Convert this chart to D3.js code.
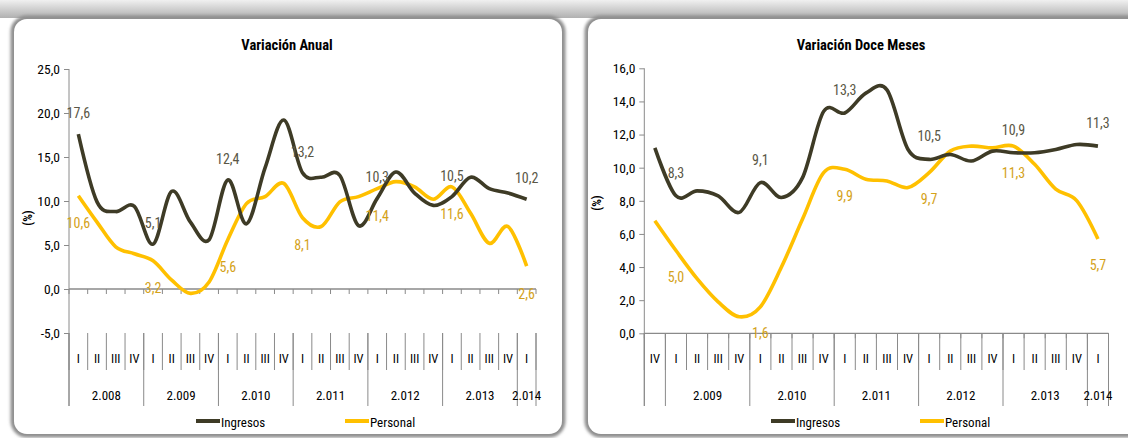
<!DOCTYPE html>
<html>
<head>
<meta charset="utf-8">
<script src="https://cdn.jsdelivr.net/npm/d3@7"></script>
<style>
  html, body { margin: 0; padding: 0; background: #ffffff; }
  svg { display: block; }
  text { font-family: "Liberation Sans Narrow", "Roboto Condensed", "DejaVu Sans Condensed", "Liberation Sans", sans-serif; }
</style>
</head>
<body>
<svg id="chart" width="1128" height="438"></svg>
<script>
// ---------- DATA ----------
const seriesNames = ["Ingresos", "Personal"];

// Variación Anual (2008 I .. 2014 I)
const annualQuarters = ["I","II","III","IV","I","II","III","IV","I","II","III","IV","I","II","III","IV","I","II","III","IV","I","II","III","IV","I"];
const annualYears = ["2.008","2.009","2.010","2.011","2.012","2.013","2.014"];
const annualYearSpans = [4, 4, 4, 4, 4, 4, 1];
const annualIngresos = [17.6, 9.9, 8.8, 9.4, 5.1, 11.1, 7.6, 5.6, 12.4, 7.4, 13.8, 19.2, 13.2, 12.7, 12.9, 7.2, 10.3, 13.3, 10.9, 9.5, 10.5, 12.7, 11.4, 10.9, 10.2];
const annualPersonal = [10.6, 7.6, 4.8, 4.0, 3.2, 1.0, -0.5, 0.8, 5.6, 9.7, 10.5, 12.0, 8.1, 7.1, 9.9, 10.5, 11.4, 12.2, 11.6, 10.2, 11.6, 8.6, 5.2, 7.1, 2.6];
const annualLabelIdx = [0, 4, 8, 12, 16, 20, 24];
const annualTicks = [-5, 0, 5, 10, 15, 20, 25];

// Variación Doce Meses (2008 IV .. 2014 I)
const twelveQuarters = ["IV","I","II","III","IV","I","II","III","IV","I","II","III","IV","I","II","III","IV","I","II","III","IV","I"];
const twelveYears = ["", "2.009","2.010","2.011","2.012","2.013","2.014"];
const twelveYearSpans = [1, 4, 4, 4, 4, 4, 1];
const twelveIngresos = [11.2, 8.3, 8.6, 8.3, 7.3, 9.1, 8.2, 9.4, 13.4, 13.3, 14.5, 14.7, 11.1, 10.5, 10.8, 10.4, 11.0, 10.9, 10.9, 11.1, 11.4, 11.3];
const twelvePersonal = [6.8, 5.0, 3.3, 1.9, 1.0, 1.6, 4.0, 6.9, 9.7, 9.9, 9.3, 9.2, 8.8, 9.7, 11.0, 11.3, 11.2, 11.3, 10.2, 8.7, 8.0, 5.7];
const twelveLabelIdx = [1, 5, 9, 13, 17, 21];
const twelveTicks = [0, 2, 4, 6, 8, 10, 12, 14, 16];

// ---------- STYLE ----------
const colIngresos = "#3e3b26";
const colPersonal = "#ffc000";
const colIngLabel = "#5a5746";
const colPerLabel = "#d4a21a";
const axisCol = "#8a8a8a";
const fmt = v => d3.format(".1f")(v).replace(".", ",").replace("\u2212", "-");

const svg = d3.select("#chart");
const defs = svg.append("defs");
const blur = defs.append("filter").attr("id", "blur").attr("x", "-5%").attr("y", "-5%").attr("width", "110%").attr("height", "110%");
blur.append("feGaussianBlur").attr("stdDeviation", 1.8);
const topGrad = defs.append("linearGradient").attr("id", "topGrad").attr("x1", 0).attr("y1", 0).attr("x2", 0).attr("y2", 1);
topGrad.append("stop").attr("offset", "0%").attr("stop-color", "#f0f0f0");
topGrad.append("stop").attr("offset", "100%").attr("stop-color", "#b0b0b0");

// top shadow band
svg.append("rect").attr("x", 0).attr("y", 0).attr("width", 1128).attr("height", 18).attr("fill", "url(#topGrad)");

function panel(x, y, w, h) {
  svg.append("rect").attr("x", x).attr("y", y).attr("width", w).attr("height", h)
    .attr("rx", 13).attr("fill", "none").attr("stroke", "#8e8e8e").attr("stroke-width", 7)
    .attr("filter", "url(#blur)");
  svg.append("rect").attr("x", x).attr("y", y).attr("width", w).attr("height", h)
    .attr("rx", 13).attr("fill", "#ffffff");
}
panel(14, 19, 548, 415);
panel(588, 19, 560, 415);

function drawChart(cfg) {
  const g = svg.append("g");
  const n = cfg.quarters.length;
  const x = d3.scaleBand().domain(d3.range(n)).range([cfg.x0, cfg.x1]).paddingInner(0).paddingOuter(0);
  const y = d3.scaleLinear().domain(cfg.domain).range([cfg.yBottom, cfg.yTop]);
  const cx = i => x(i) + x.bandwidth() / 2;

  // title
  g.append("text").attr("x", cfg.titleX).attr("y", 50).attr("text-anchor", "middle")
    .attr("font-size", 14.5).attr("font-weight", "bold").attr("fill", "#000").text(cfg.title);

  // y axis label
  g.append("text").attr("transform", `translate(${cfg.pctX},${cfg.pctY}) rotate(-90)`)
    .attr("text-anchor", "middle").attr("dominant-baseline", "central")
    .attr("font-size", 12).attr("font-weight", "bold").attr("fill", "#000").text("(%)");

  // y axis
  const yAxis = d3.axisLeft(y).tickValues(cfg.ticks).tickFormat(fmt).tickSize(5).tickPadding(4);
  const ya = g.append("g").attr("transform", `translate(${cfg.x0},0)`).call(yAxis);
  ya.select(".domain").remove();
  ya.selectAll(".tick line").attr("stroke", axisCol);
  ya.selectAll(".tick text").attr("font-size", 13.5).attr("fill", "#000")
    .style("font-family", "'Liberation Sans Narrow', 'Roboto Condensed', 'DejaVu Sans Condensed', sans-serif");
  // vertical axis line extends through category area
  g.append("line").attr("x1", cfg.x0).attr("x2", cfg.x0).attr("y1", cfg.yTop).attr("y2", cfg.catBottom)
    .attr("stroke", axisCol).attr("stroke-width", 1);

  // x axis at 0 with tick marks at category boundaries
  const y0 = y(0);
  g.append("line").attr("x1", cfg.x0).attr("x2", cfg.x1).attr("y1", y0).attr("y2", y0)
    .attr("stroke", axisCol).attr("stroke-width", 1.3);
  const bounds = d3.range(n + 1).map(i => i < n ? x(i) : cfg.x1);
  g.selectAll(".xt").data(bounds).enter().append("line")
    .attr("x1", d => d).attr("x2", d => d).attr("y1", y0).attr("y2", y0 + 5)
    .attr("stroke", axisCol);

  // category separators (quarter level)
  const catTop = cfg.yBottom;
  g.selectAll(".qs").data(bounds).enter().append("line")
    .attr("x1", d => d).attr("x2", d => d).attr("y1", catTop).attr("y2", cfg.qBottom)
    .attr("stroke", axisCol);
  // year separators
  let acc = 0; const yearB = [0];
  cfg.yearSpans.forEach(s => { acc += s; yearB.push(acc); });
  g.selectAll(".ys").data(yearB).enter().append("line")
    .attr("x1", d => d < n ? x(d) : cfg.x1).attr("x2", d => d < n ? x(d) : cfg.x1)
    .attr("y1", catTop).attr("y2", cfg.catBottom).attr("stroke", axisCol);

  // quarter labels
  g.selectAll(".ql").data(cfg.quarters).enter().append("text")
    .attr("x", (d, i) => cx(i)).attr("y", 358).attr("text-anchor", "middle").attr("dominant-baseline", "central")
    .attr("font-size", 12.5).attr("fill", "#000").text(d => d);
  // year labels
  g.selectAll(".yl").data(cfg.years).enter().append("text")
    .attr("x", (d, k) => {
      const a = yearB[k], b = yearB[k + 1];
      return (x(a) + (b < n ? x(b) : cfg.x1)) / 2;
    })
    .attr("y", 395).attr("text-anchor", "middle").attr("dominant-baseline", "central")
    .attr("font-size", 13).attr("fill", "#000").text(d => d);

  // lines
  const line = d3.line().x((d, i) => cx(i)).y(d => y(d)).curve(d3.curveCatmullRom.alpha(0));
  g.append("path").datum(cfg.personal).attr("d", line).attr("fill", "none")
    .attr("stroke", colPersonal).attr("stroke-width", 3.6);
  g.append("path").datum(cfg.ingresos).attr("d", line).attr("fill", "none")
    .attr("stroke", colIngresos).attr("stroke-width", 3.6);

  // data labels
  g.selectAll(".li").data(cfg.labelIdx).enter().append("text")
    .attr("x", i => cx(i)).attr("y", i => y(cfg.ingresos[i]) - cfg.above)
    .attr("text-anchor", "middle").attr("dominant-baseline", "central")
    .attr("font-size", 14).attr("fill", colIngLabel).text(i => fmt(cfg.ingresos[i]));
  g.selectAll(".lp").data(cfg.labelIdx).enter().append("text")
    .attr("x", i => cx(i)).attr("y", i => y(cfg.personal[i]) + cfg.below)
    .attr("text-anchor", "middle").attr("dominant-baseline", "central")
    .attr("font-size", 14).attr("fill", colPerLabel).text(i => fmt(cfg.personal[i]));

  // legend
  const lg = g.append("g");
  [[seriesNames[0], colIngresos, cfg.legX[0]], [seriesNames[1], colPersonal, cfg.legX[1]]].forEach(([name, col, lx]) => {
    lg.append("line").attr("x1", lx).attr("x2", lx + 24).attr("y1", 421).attr("y2", 421)
      .attr("stroke", col).attr("stroke-width", 4);
    lg.append("text").attr("x", lx + 25).attr("y", 422).attr("dominant-baseline", "central")
      .attr("font-size", 13).attr("fill", "#000").text(name);
  });
}

drawChart({
  title: "Variación Anual", titleX: 287, pctX: 28, pctY: 218,
  quarters: annualQuarters, years: annualYears, yearSpans: annualYearSpans,
  ingresos: annualIngresos, personal: annualPersonal, labelIdx: annualLabelIdx,
  ticks: annualTicks, domain: [-5, 25],
  x0: 69, x1: 536, yTop: 69, yBottom: 333, qBottom: 370, catBottom: 406,
  above: 21, below: 27.5, legX: [196, 345]
});

drawChart({
  title: "Variación Doce Meses", titleX: 861, pctX: 597, pctY: 203,
  quarters: twelveQuarters, years: twelveYears, yearSpans: twelveYearSpans,
  ingresos: twelveIngresos, personal: twelvePersonal, labelIdx: twelveLabelIdx,
  ticks: twelveTicks, domain: [0, 16],
  x0: 644.3, x1: 1108.5, yTop: 68.3, yBottom: 333.3, qBottom: 370, catBottom: 406,
  above: 23, below: 26.5, legX: [771, 920]
});
</script>
</body>
</html>
